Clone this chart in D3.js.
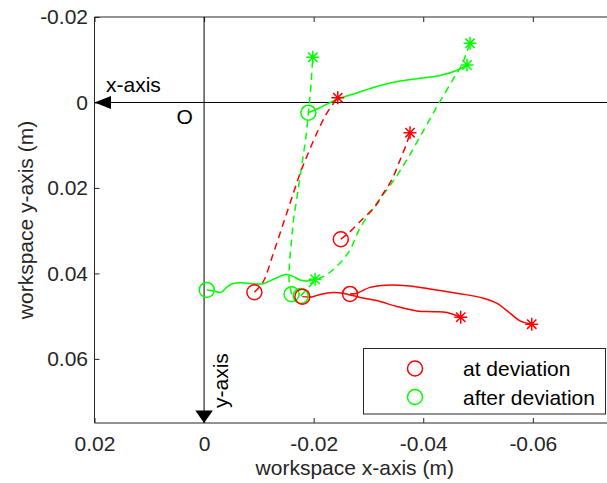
<!DOCTYPE html>
<html>
<head>
<meta charset="utf-8">
<script src="https://cdn.jsdelivr.net/npm/d3@7"></script>
<style>
  body { margin: 0; background: #fff; }
  text { font-family: "Liberation Sans", Arial, sans-serif; }
</style>
</head>
<body>
<svg id="chart"></svg>
<script>
// tick values
const xTicks = [0.02, 0, -0.02, -0.04, -0.06];
const yTicks = [-0.02, 0, 0.02, 0.04, 0.06];

// red = at deviation, green = after deviation
// each trace starts at a circle and ends at an asterisk
const redSolid1X = [-0.01794, -0.01965, -0.02117, -0.02359, -0.02542, -0.02664, -0.02847, -0.03151, -0.03516, -0.03881, -0.04184, -0.04434, -0.04684];
const redSolid1Y = [0.04543, 0.04550, 0.04491, 0.04444, 0.04463, 0.04503, 0.04561, 0.04636, 0.04772, 0.04877, 0.04894, 0.04912, 0.05025];

const redSolid2X = [-0.02664, -0.02774, -0.02883, -0.03029, -0.03334, -0.03699, -0.04124, -0.04611, -0.05097, -0.05347, -0.05584, -0.05766, -0.05980];
const redSolid2Y = [0.04480, 0.04468, 0.04409, 0.04327, 0.04276, 0.04288, 0.04363, 0.04463, 0.04580, 0.04702, 0.04931, 0.05111, 0.05188];

const redDash1X = [-0.00918, -0.01071, -0.01265, -0.01447, -0.01630, -0.01752, -0.01874, -0.02057, -0.02239, -0.02440];
const redDash1Y = [0.04440, 0.04215, 0.03528, 0.02826, 0.02124, 0.01656, 0.01268, 0.00720, 0.00253, -0.00112];

const redDash2X = [-0.02495, -0.02633, -0.02907, -0.03120, -0.03272, -0.03425, -0.03577, -0.03699, -0.03759];
const redDash2Y = [0.03200, 0.03060, 0.02709, 0.02437, 0.02124, 0.01813, 0.01345, 0.00954, 0.00707];

const greenSolid1X = [-0.00049, -0.00182, -0.00310, -0.00420, -0.00529, -0.00748, -0.00967, -0.01095, -0.01277, -0.01496, -0.01606, -0.01752, -0.01898, -0.02026];
const greenSolid1Y = [0.04386, 0.04409, 0.04444, 0.04316, 0.04234, 0.04222, 0.04246, 0.04234, 0.04129, 0.04023, 0.04058, 0.04152, 0.04175, 0.04136];

const greenSolid2X = [-0.01903, -0.02057, -0.02422, -0.02787, -0.03151, -0.03577, -0.03942, -0.04307, -0.04635, -0.04799];
const greenSolid2Y = [0.00239, 0.00159, -0.00070, -0.00222, -0.00374, -0.00503, -0.00566, -0.00632, -0.00760, -0.00877];

const greenDash1X = [-0.01597, -0.01551, -0.01560, -0.01597, -0.01633, -0.01688, -0.01743, -0.01797, -0.01852, -0.01903, -0.01943, -0.01984];
const greenDash1Y = [0.04487, 0.04152, 0.03754, 0.03216, 0.02749, 0.02281, 0.01813, 0.01345, 0.00877, 0.00239, -0.00292, -0.01057];

const greenDash2X = [-0.01765, -0.01898, -0.02057, -0.02245, -0.02482, -0.02664, -0.02847, -0.03151, -0.03454, -0.03699, -0.03942, -0.04215, -0.04429, -0.04580, -0.04703, -0.04781, -0.04854];
const greenDash2Y = [0.04526, 0.04339, 0.04152, 0.04023, 0.03754, 0.03450, 0.02936, 0.02358, 0.01836, 0.01345, 0.00800, 0.00175, -0.00292, -0.00620, -0.00877, -0.01135, -0.01385];

const legendLabels = ["at deviation", "after deviation"];

const red = "#ff0000", green = "#00ff00", axisColor = "#262626";

const traces = [
  { xs: greenDash1X, ys: greenDash1Y, color: green, dash: true },
  { xs: greenDash2X, ys: greenDash2Y, color: green, dash: true },
  { xs: redDash1X, ys: redDash1Y, color: red, dash: true },
  { xs: redDash2X, ys: redDash2Y, color: red, dash: true },
  { xs: greenSolid1X, ys: greenSolid1Y, color: green, dash: false },
  { xs: greenSolid2X, ys: greenSolid2Y, color: green, dash: false },
  { xs: redSolid1X, ys: redSolid1Y, color: red, dash: false },
  { xs: redSolid2X, ys: redSolid2Y, color: red, dash: false }
];

const width = 607, height = 483;
const margin = { left: 94.5, top: 17, bottom: 423, right: 615 };

const svg = d3.select("#chart").attr("width", width).attr("height", height);
svg.append("rect").attr("width", width).attr("height", height).attr("fill", "#fff");

const x = d3.scaleLinear().domain([0.02, -0.075]).range([margin.left, margin.right]);
const y = d3.scaleLinear().domain([-0.02, 0.075]).range([margin.top, margin.bottom]);

const fmt = d => d === 0 ? "0" : d.toFixed(2);

// axes
svg.append("g")
  .attr("transform", "translate(0," + margin.bottom + ")")
  .call(d3.axisBottom(x).tickValues(xTicks).tickFormat(fmt).tickSizeInner(-5).tickSizeOuter(0).tickPadding(13.5));
svg.append("g")
  .attr("transform", "translate(0," + margin.top + ")")
  .call(d3.axisTop(x).tickValues(xTicks).tickFormat("").tickSizeInner(-5).tickSizeOuter(0));
svg.append("g")
  .attr("transform", "translate(" + margin.left + ",0)")
  .call(d3.axisLeft(y).tickValues(yTicks).tickFormat(fmt).tickSizeInner(-5).tickSizeOuter(0).tickPadding(6.5));

svg.selectAll(".domain").remove();
svg.selectAll(".tick line").attr("stroke", axisColor);
svg.selectAll(".tick text").attr("fill", axisColor).attr("font-size", 21)
  .attr("font-family", "'Liberation Sans', Arial, sans-serif");

// box
svg.append("path")
  .attr("d", `M${margin.right},${margin.top}H${margin.left}V${margin.bottom}H${margin.right}`)
  .attr("fill", "none").attr("stroke", axisColor).attr("stroke-width", 1);

// axis labels
svg.append("text")
  .attr("x", (margin.left + margin.right) / 2).attr("y", 475)
  .attr("text-anchor", "middle").attr("font-size", 21).attr("fill", axisColor)
  .text("workspace x-axis (m)");
svg.append("text")
  .attr("transform", `translate(33,${(margin.top + margin.bottom) / 2}) rotate(-90)`)
  .attr("text-anchor", "middle").attr("font-size", 21).attr("fill", axisColor)
  .text("workspace y-axis (m)");

// reference axes through the origin
svg.append("line")
  .attr("x1", x(0.02)).attr("x2", margin.right).attr("y1", y(0)).attr("y2", y(0))
  .attr("stroke", "#000").attr("stroke-width", 1);
svg.append("line")
  .attr("x1", x(0)).attr("x2", x(0)).attr("y1", margin.top).attr("y2", margin.bottom)
  .attr("stroke", "#000").attr("stroke-width", 1);
svg.append("path")
  .attr("d", `M${x(0.02)},${y(0)}l16.5,-6.5v13z`).attr("fill", "#000");
svg.append("path")
  .attr("d", `M${x(0)},${y(0.075)}l-8.8,-12.6h17.6z`).attr("fill", "#000");

svg.append("text").attr("x", 106).attr("y", 92).attr("font-size", 21).attr("fill", "#000").text("x-axis");
svg.append("text").attr("x", 176.5).attr("y", 124).attr("font-size", 21).attr("fill", "#000").text("O");
svg.append("text")
  .attr("transform", "translate(228,408) rotate(-90)")
  .attr("font-size", 21).attr("fill", "#000").text("y-axis");

// traces
const line = d3.line().x(d => x(d[0])).y(d => y(d[1])).curve(d3.curveCatmullRom.alpha(0.5));

function asterisk(s) {
  const d = s * 0.72;
  return `M${-s},0H${s}M0,${-s}V${s}M${-d},${-d}L${d},${d}M${-d},${d}L${d},${-d}`;
}

const plot = svg.append("g");
traces.forEach(t => {
  const pts = t.xs.map((v, i) => [v, t.ys[i]]);
  plot.append("path")
    .attr("d", line(pts))
    .attr("fill", "none")
    .attr("stroke", t.color)
    .attr("stroke-width", 1.5)
    .attr("stroke-dasharray", t.dash ? "7,5" : null);
});
traces.forEach(t => {
  const n = t.xs.length - 1;
  plot.append("circle")
    .attr("cx", x(t.xs[0])).attr("cy", y(t.ys[0])).attr("r", 7.5)
    .attr("fill", "none").attr("stroke", t.color).attr("stroke-width", 1.5);
  plot.append("path")
    .attr("transform", `translate(${x(t.xs[n])},${y(t.ys[n])})`)
    .attr("d", asterisk(6.5))
    .attr("fill", "none").attr("stroke", t.color).attr("stroke-width", 1.5);
});

// legend
const legend = svg.append("g");
legend.append("rect")
  .attr("x", 363.5).attr("y", 348.5).attr("width", 242).attr("height", 65.5)
  .attr("fill", "#fff").attr("stroke", axisColor).attr("stroke-width", 1);
[red, green].forEach((c, i) => {
  const cy = 368.5 + i * 28.5;
  legend.append("circle").attr("cx", 415).attr("cy", cy).attr("r", 7.5)
    .attr("fill", "none").attr("stroke", c).attr("stroke-width", 1.5);
  legend.append("text").attr("x", 463).attr("y", cy + 7.5)
    .attr("font-size", 21).attr("fill", "#000").text(legendLabels[i]);
});
</script>
</body>
</html>
